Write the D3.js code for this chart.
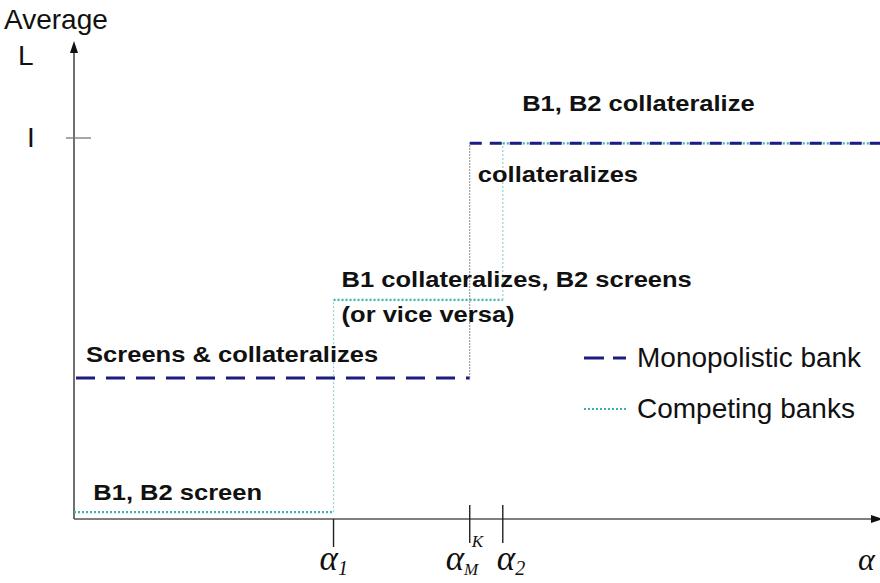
<!DOCTYPE html>
<html>
<head>
<meta charset="utf-8">
<script src="https://cdn.jsdelivr.net/npm/d3@7"></script>
<style>
  body { margin: 0; background: #fff; }
  svg { display: block; }
  .lbl { font-family: "Liberation Sans", Arial, sans-serif; font-weight: bold; font-size: 22px; fill: #111; }
  .reg { font-family: "Liberation Sans", Arial, sans-serif; font-size: 28px; fill: #111; }
  .greek { font-family: "Liberation Serif", "DejaVu Serif", serif; font-style: italic; fill: #111; }
</style>
</head>
<body>
<script>
// thresholds on the alpha axis (0 = origin, 1 = right edge)
var alphaNames = ["a1", "aMK", "a2"];
var alphaValues = [0.322, 0.491, 0.532];
var levelI = 1;

// average L, step functions
var monoSteps = [[0, 0.37], [0.491, 0.37], [0.491, 0.986], [1, 0.986]];
var compSteps = [[0, 0.018], [0.322, 0.018], [0.322, 0.575], [0.532, 0.575], [0.532, 0.986], [1, 0.986]];

// region labels [text, alpha, level]
var regionLabels = [
  ["B1, B2 collateralize", 0.556, 1.07],
  ["collateralizes", 0.501, 0.885],
  ["B1 collateralizes, B2 screens", 0.332, 0.609],
  ["(or vice versa)", 0.332, 0.517],
  ["Screens & collateralizes", 0.015, 0.413],
  ["B1, B2 screen", 0.024, 0.05]
];

var legendItems = ["Monopolistic bank", "Competing banks"];

var W = 880, H = 583;
var svg = d3.select("body").append("svg").attr("width", W).attr("height", H);

var x = d3.scaleLinear().domain([0, 1]).range([74, 880]);
var y = d3.scaleLinear().domain([0, 1]).range([519, 138]);

var navy = "#1c1c82", teal = "#3fb0b0";

// axes
svg.append("line").attr("x1", x(0)).attr("x2", x(0)).attr("y1", y(0)).attr("y2", 50)
  .attr("stroke", "#333").attr("stroke-width", 1.4);
svg.append("path").attr("d", "M74,41 L70,53 L78,53 Z").attr("fill", "#111");
svg.append("line").attr("x1", x(0)).attr("x2", 872).attr("y1", y(0)).attr("y2", y(0))
  .attr("stroke", "#555").attr("stroke-width", 1.6);
svg.append("path").attr("d", "M883,519 L871,515 L871,523 Z").attr("fill", "#111");

// I tick
svg.append("line").attr("x1", 66).attr("x2", 91).attr("y1", y(levelI)).attr("y2", y(levelI))
  .attr("stroke", "#777").attr("stroke-width", 1.3);
svg.append("text").attr("class", "reg").attr("x", 27).attr("y", y(levelI) + 9).attr("font-size", 26).text("I");

// axis title
svg.append("text").attr("class", "reg").attr("x", 4).attr("y", 29).text("Average");
svg.append("text").attr("class", "reg").attr("x", 18).attr("y", 65).text("L");

// alpha ticks
svg.selectAll(".atick").data(alphaValues).enter().append("line")
  .attr("class", "atick")
  .attr("x1", function(d) { return x(d); }).attr("x2", function(d) { return x(d); })
  .attr("y1", function(d, i) { return i == 0 ? y(0) : y(0) - 14; })
  .attr("y2", function(d, i) { return i == 0 ? y(0) + 28 : y(0) + 24; })
  .attr("stroke", "#222").attr("stroke-width", 1.4);

// alpha labels
var g1 = svg.append("text").attr("class", "greek").attr("x", x(alphaValues[0]) - 14).attr("y", 570).attr("font-size", 35);
g1.append("tspan").text("α");
g1.append("tspan").attr("font-size", 20).attr("dy", 5).text("1");

var g2 = svg.append("text").attr("class", "greek").attr("x", x(alphaValues[1]) - 24).attr("y", 570).attr("font-size", 35);
g2.append("tspan").text("α");
g2.append("tspan").attr("font-size", 17).attr("dy", 5).text("M");
svg.append("text").attr("class", "greek").attr("x", x(alphaValues[1]) + 2).attr("y", 547).attr("font-size", 17).text("K");

var g3 = svg.append("text").attr("class", "greek").attr("x", x(alphaValues[2]) - 6).attr("y", 570).attr("font-size", 35);
g3.append("tspan").text("α");
g3.append("tspan").attr("font-size", 20).attr("dy", 5).text("2");

svg.append("text").attr("class", "greek").attr("x", 858).attr("y", 570).attr("font-size", 32).text("α");

// step lines: horizontal parts styled, verticals thin
function segs(steps) {
  var out = [];
  for (var i = 0; i < steps.length - 1; i++) out.push([steps[i], steps[i + 1]]);
  return out;
}

segs(compSteps).forEach(function(s) {
  var vert = s[0][0] == s[1][0];
  svg.append("line")
    .attr("x1", x(s[0][0])).attr("y1", y(s[0][1])).attr("x2", x(s[1][0])).attr("y2", y(s[1][1]))
    .attr("stroke", vert ? "#8fd0d0" : teal)
    .attr("stroke-width", vert ? 1.2 : 2.2)
    .attr("stroke-dasharray", "2,2");
});

segs(monoSteps).forEach(function(s, i) {
  var vert = s[0][0] == s[1][0];
  svg.append("line")
    .attr("x1", x(s[0][0]) + (i == 0 ? 2 : 0)).attr("y1", y(s[0][1]))
    .attr("x2", x(s[1][0])).attr("y2", y(s[1][1]))
    .attr("stroke", vert ? "#888" : navy)
    .attr("stroke-width", vert ? 1 : 3)
    .attr("stroke-dasharray", vert ? "2,1" : (i == 0 ? "19,11" : "12,8"));
});

// region labels (original text is a bit stretched sideways)
svg.selectAll(".rl").data(regionLabels).enter().append("text")
  .attr("class", "lbl")
  .attr("transform", function(d) { return "translate(" + x(d[1]) + "," + y(d[2]) + ") scale(1.16,1)"; })
  .text(function(d) { return d[0]; });

// legend
var leg = svg.append("g").attr("transform", "translate(584,358)");
leg.append("line").attr("x1", 0).attr("x2", 42).attr("y1", 0).attr("y2", 0)
  .attr("stroke", navy).attr("stroke-width", 3).attr("stroke-dasharray", "20,9");
leg.append("line").attr("x1", 0).attr("x2", 42).attr("y1", 51).attr("y2", 51)
  .attr("stroke", teal).attr("stroke-width", 2).attr("stroke-dasharray", "2,2");
leg.selectAll("text").data(legendItems).enter().append("text")
  .attr("class", "reg")
  .attr("x", 53).attr("y", function(d, i) { return 9 + i * 51; })
  .text(function(d) { return d; });
</script>
</body>
</html>
